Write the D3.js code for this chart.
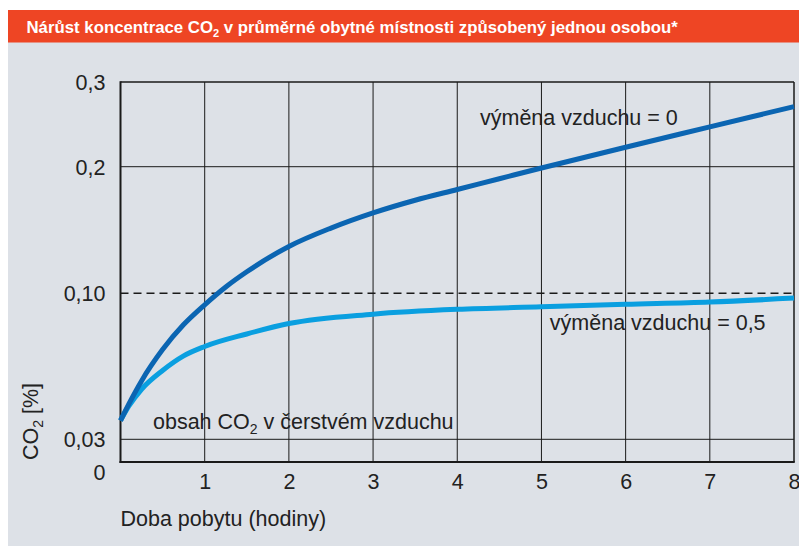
<!DOCTYPE html>
<html>
<head>
<meta charset="utf-8">
<script src="https://cdn.jsdelivr.net/npm/d3@7"></script>
<style>
  body { margin: 0; background: #fff; }
  svg text { font-family: "Liberation Sans", Arial, sans-serif; }
</style>
</head>
<body>
<div class="chart"></div>
<script>
// hodiny (x) a koncentrace CO2 v % (y)
var xTicks = [1, 2, 3, 4, 5, 6, 7, 8];
var yTicks = [0, 0.03, 0.1, 0.2, 0.3];
var yTickLabels = ["0", "0,03", "0,10", "0,2", "0,3"];

// výměna vzduchu = 0
var noExchangeH = [0, 0.1, 0.25, 0.5, 0.75, 1, 1.25, 1.5, 2, 2.5, 3, 3.5, 4, 4.5, 5, 6, 7, 8];
var noExchangeV = [0.039, 0.047, 0.058, 0.073, 0.085, 0.0945, 0.105, 0.117, 0.137, 0.1515, 0.1635, 0.1735, 0.182, 0.1905, 0.199, 0.223, 0.247, 0.271];

// výměna vzduchu = 0,5
var halfExchangeH = [0, 0.1, 0.25, 0.5, 0.75, 1, 1.5, 2, 3, 4, 5, 6, 7, 8];
var halfExchangeV = [0.039, 0.046, 0.054, 0.063, 0.07, 0.0745, 0.0805, 0.0855, 0.09, 0.0923, 0.0935, 0.0947, 0.0958, 0.0977];

var freshAir = 0.03;
var limit = 0.1;

const width = 799
const height = 546
const pLeft = 120.5, pRight = 794, pTop = 82, pBottom = 462
const fs = 21.5

let svg = d3.select('.chart')
  .append('svg')
  .attr('width', width)
  .attr('height', height)

// pozadí
svg.append('rect').attr('x', 8).attr('y', 42).attr('width', width - 8).attr('height', height - 42).attr('fill', '#dde1e7')
svg.append('rect').attr('x', 8).attr('y', 10).attr('width', width - 8).attr('height', 32.5).attr('fill', '#ee4524')

let title = svg.append('text')
  .attr('x', 26.5).attr('y', 33)
  .attr('fill', '#fff')
  .attr('font-weight', 'bold')
  .attr('font-size', 16.8)
title.append('tspan').text('Nárůst koncentrace CO')
title.append('tspan').attr('font-size', 11).attr('dy', 4).text('2')
title.append('tspan').attr('dy', -4).text(' v průměrné obytné místnosti způsobený jednou osobou*')

let x = d3.scaleLinear().domain([0, 8]).range([pLeft, pRight])
// osa y je po částech lineární
let y = d3.scaleLinear().domain(yTicks).range([pBottom, 439.3, 293.3, 166.7, pTop])

// mřížka
svg.selectAll('.vgrid')
  .data(xTicks.slice(0, -1))
  .enter()
  .append('line')
  .attr('x1', d => x(d)).attr('x2', d => x(d))
  .attr('y1', pTop).attr('y2', pBottom)
  .attr('stroke', '#1a1a1a').attr('stroke-width', 1)

svg.selectAll('.hgrid')
  .data([freshAir, 0.2])
  .enter()
  .append('line')
  .attr('x1', pLeft).attr('x2', pRight)
  .attr('y1', d => y(d)).attr('y2', d => y(d))
  .attr('stroke', '#1a1a1a').attr('stroke-width', 1)

svg.append('line')
  .attr('x1', pLeft).attr('x2', pRight)
  .attr('y1', y(limit)).attr('y2', y(limit))
  .attr('stroke', '#1a1a1a').attr('stroke-width', 1.5)
  .attr('stroke-dasharray', '8,5')

// rámeček
svg.append('line').attr('x1', pLeft).attr('x2', pRight).attr('y1', y(0.3)).attr('y2', y(0.3)).attr('stroke', '#1a1a1a').attr('stroke-width', 1.5)
svg.append('line').attr('x1', x(8)).attr('x2', x(8)).attr('y1', pTop).attr('y2', pBottom).attr('stroke', '#1a1a1a').attr('stroke-width', 1.5)
svg.append('line').attr('x1', pLeft).attr('x2', pLeft).attr('y1', pTop - 0.75).attr('y2', pBottom + 1).attr('stroke', '#1a1a1a').attr('stroke-width', 2)
svg.append('line').attr('x1', pLeft - 1).attr('x2', pRight + 0.75).attr('y1', pBottom).attr('y2', pBottom).attr('stroke', '#1a1a1a').attr('stroke-width', 2)

// křivky
let line = d3.line()
  .x(d => x(d[0]))
  .y(d => y(d[1]))
  .curve(d3.curveMonotoneX)

svg.append('path')
  .datum(halfExchangeH.map((h, i) => [h, halfExchangeV[i]]))
  .attr('d', line)
  .attr('fill', 'none')
  .attr('stroke', '#0a9fe0')
  .attr('stroke-width', 5)

svg.append('path')
  .datum(noExchangeH.map((h, i) => [h, noExchangeV[i]]))
  .attr('d', line)
  .attr('fill', 'none')
  .attr('stroke', '#0b65b2')
  .attr('stroke-width', 5)

// osy
let yAxis = svg.append('g')
  .attr('transform', 'translate(' + pLeft + ',0)')
  .call(d3.axisLeft(y).tickValues(yTicks).tickFormat((d, i) => yTickLabels[i]).tickSize(0).tickPadding(15))
yAxis.select('.domain').remove()
yAxis.selectAll('text')
  .attr('font-family', '"Liberation Sans", Arial, sans-serif')
  .attr('font-size', fs)
  .attr('fill', '#222')
  .attr('dy', d => d === 0 ? '0.8em' : '0.34em')

let xAxis = svg.append('g')
  .attr('transform', 'translate(0,' + pBottom + ')')
  .call(d3.axisBottom(x).tickValues(xTicks).tickSize(0).tickPadding(12))
xAxis.select('.domain').remove()
xAxis.selectAll('text')
  .attr('font-family', '"Liberation Sans", Arial, sans-serif')
  .attr('font-size', fs)
  .attr('fill', '#222')

svg.append('text')
  .attr('x', pLeft).attr('y', 526)
  .attr('font-size', fs).attr('fill', '#222')
  .text('Doba pobytu (hodiny)')

let yTitle = svg.append('text')
  .attr('transform', 'translate(38,460) rotate(-90)')
  .attr('font-size', fs).attr('fill', '#222')
yTitle.append('tspan').text('CO')
yTitle.append('tspan').attr('font-size', 14).attr('dy', 5).text('2')
yTitle.append('tspan').attr('dy', -5).text(' [%]')

// popisky
svg.append('text')
  .attr('x', x(4.27)).attr('y', y(0.25) + 1)
  .attr('font-size', fs).attr('fill', '#222')
  .text('výměna vzduchu = 0')

svg.append('text')
  .attr('x', x(5.1)).attr('y', 330)
  .attr('font-size', fs).attr('fill', '#222')
  .text('výměna vzduchu = 0,5')

let fresh = svg.append('text')
  .attr('x', 153).attr('y', y(freshAir) - 10)
  .attr('font-size', fs).attr('fill', '#222')
fresh.append('tspan').text('obsah CO')
fresh.append('tspan').attr('font-size', 14).attr('dy', 5).text('2')
fresh.append('tspan').attr('dy', -5).text(' v čerstvém vzduchu')
</script>
</body>
</html>
